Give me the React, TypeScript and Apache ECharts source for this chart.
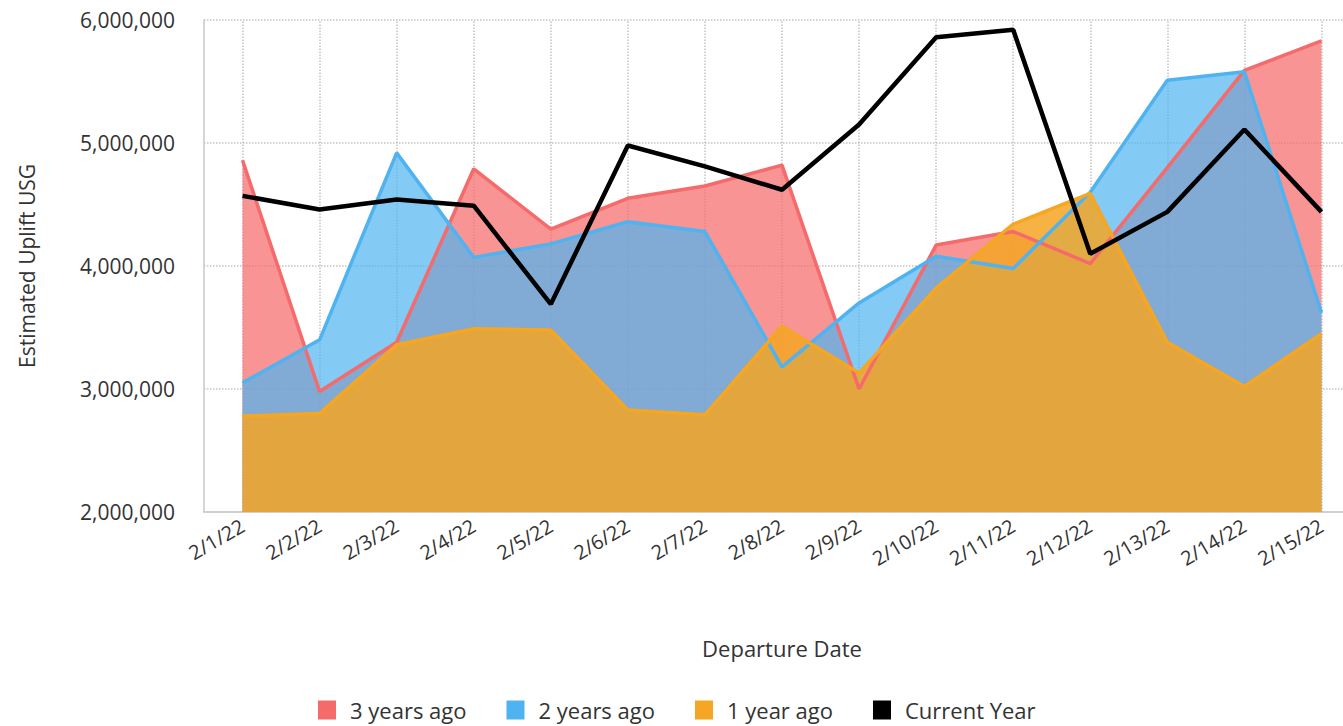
import React, { useEffect, useRef } from "react";
import * as echarts from "echarts";

const categories = [
  "2/1/22", "2/2/22", "2/3/22", "2/4/22", "2/5/22", "2/6/22", "2/7/22", "2/8/22",
  "2/9/22", "2/10/22", "2/11/22", "2/12/22", "2/13/22", "2/14/22", "2/15/22",
];

const threeYearsAgo = [4860000, 2980000, 3380000, 4790000, 4300000, 4550000, 4650000, 4820000, 3000000, 4170000, 4280000, 4020000, 4800000, 5590000, 5830000];
const twoYearsAgo = [3050000, 3400000, 4920000, 4070000, 4180000, 4360000, 4280000, 3180000, 3700000, 4080000, 3980000, 4600000, 5510000, 5580000, 3620000];
const oneYearAgo = [2780000, 2800000, 3360000, 3490000, 3480000, 2830000, 2790000, 3510000, 3130000, 3820000, 4340000, 4590000, 3380000, 3020000, 3450000];
const currentYear = [4570000, 4460000, 4540000, 4490000, 3690000, 4980000, 4810000, 4620000, 5150000, 5860000, 5920000, 4100000, 4440000, 5110000, 4440000];

const seriesNames = ["3 years ago", "2 years ago", "1 year ago", "Current Year"];
const yMin = 2000000;
const yMax = 6000000;
const yStep = 1000000;

const FONT = "'Open Sans', sans-serif";
const TEXT = "#333";

export default function App() {
  const ref = useRef<HTMLDivElement>(null);
  useEffect(() => {
    if (!ref.current) return;
    const chart = echarts.init(ref.current, undefined, { renderer: "svg" });
    const area = (color: string, opacity: number) => ({
      type: "line",
      showSymbol: false,
      symbol: "none",
      lineStyle: { color, width: 3.5 },
      itemStyle: { color },
      areaStyle: { color, opacity },
    });
    chart.setOption({
      animation: false,
      backgroundColor: "#fff",
      textStyle: { fontFamily: FONT },
      grid: {
        left: 204,
        width: 1156,
        top: 20,
        bottom: 214,
        containLabel: false,
        outerBoundsMode: "none",
      },
      legend: {
        left: 313,
        bottom: 0,
        icon: "rect",
        itemWidth: 18,
        itemHeight: 19,
        itemGap: 40,
        textStyle: { fontSize: 22, color: TEXT, fontFamily: FONT, padding: [0, 0, 0, 9] },
        data: seriesNames,
      },
      xAxis: {
        type: "category",
        data: categories,
        boundaryGap: true,
        name: "Departure Date",
        nameLocation: "middle",
        nameGap: 125,
        nameTextStyle: { fontSize: 22, color: TEXT, fontFamily: FONT },
        axisLine: { show: true, lineStyle: { color: "#c8c8c8", width: 1.5 } },
        axisTick: {
          show: true,
          alignWithLabel: true,
          inside: true,
          length: 492,
          lineStyle: { color: "#c4c4c4", type: "dotted", width: 1.5 },
        },
        splitLine: { show: false },
        axisLabel: {
          rotate: 30,
          fontSize: 20,
          color: TEXT,
          fontFamily: FONT,
          margin: 12,
          interval: 0,
        },
      },
      yAxis: {
        type: "value",
        min: yMin,
        max: yMax,
        interval: yStep,
        name: "Estimated Uplift USG",
        nameLocation: "middle",
        nameGap: 167,
        nameRotate: 90,
        nameTextStyle: { fontSize: 21, color: TEXT, fontFamily: FONT },
        axisLine: { show: true, lineStyle: { color: "#c8c8c8", width: 1.5 } },
        axisTick: { show: false },
        splitLine: { show: true, lineStyle: { color: "#c4c4c4", type: "dotted", width: 1.5 } },
        axisLabel: {
          fontSize: 21,
          color: TEXT,
          fontFamily: FONT,
          margin: 29,
          formatter: (v: number) => v.toLocaleString("en-US"),
        },
      },
      series: [
        { name: seriesNames[0], data: threeYearsAgo, ...area("#f56b6b", 0.72) },
        { name: seriesNames[1], data: twoYearsAgo, ...area("#4fb3f0", 0.7) },
        { name: seriesNames[2], data: oneYearAgo, ...area("#f5a623", 0.85) },
        {
          name: seriesNames[3],
          type: "line",
          data: currentYear,
          showSymbol: false,
          symbol: "none",
          lineStyle: { color: "#000", width: 4.5 },
          itemStyle: { color: "#000" },
          z: 5,
        },
      ],
    });
    return () => chart.dispose();
  }, []);
  return (
    <div
      ref={ref}
      style={{ position: "fixed", left: 0, top: 0, width: 1343, height: 726, background: "#fff" }}
    />
  );
}
